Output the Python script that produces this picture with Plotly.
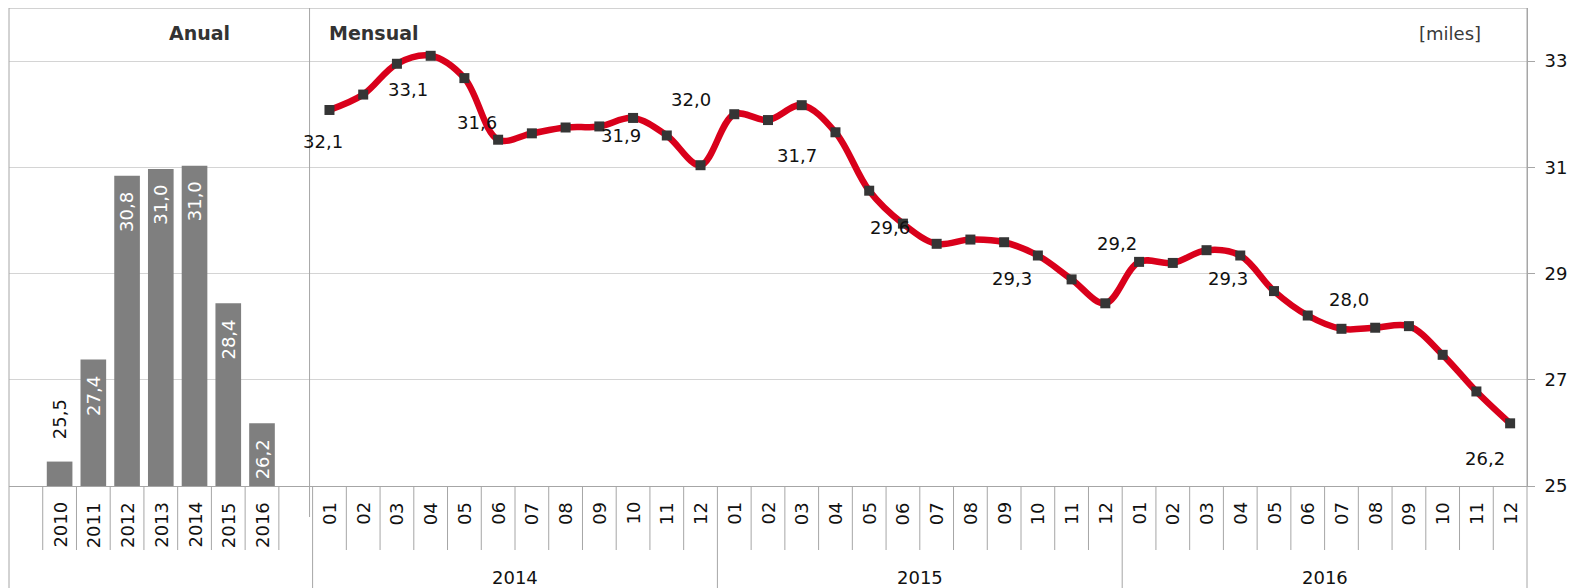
import plotly.graph_objects as go

# ---------------- data ----------------
years = ["2010", "2011", "2012", "2013", "2014", "2015", "2016"]
annual = [25.46, 27.38, 30.84, 30.97, 31.03, 28.44, 26.18]

month_groups = ["2014", "2015", "2016"]
months = ["01", "02", "03", "04", "05", "06", "07", "08", "09", "10", "11", "12"]
monthly_2014 = [32.08, 32.37, 32.95, 33.10, 32.68, 31.52, 31.64, 31.75, 31.77, 31.93, 31.60, 31.04]
monthly_2015 = [32.00, 31.89, 32.17, 31.66, 30.56, 29.94, 29.56, 29.64, 29.59, 29.34, 28.89, 28.44]
monthly_2016 = [29.22, 29.20, 29.44, 29.34, 28.67, 28.21, 27.96, 27.98, 28.01, 27.47, 26.78, 26.18]

# labelled months: (year, month) -> label offset (dx, dy) in pixels
labelled = {
    ("2014", "01"): (-6, -32), ("2014", "04"): (-23, -34), ("2014", "07"): (-55, 11),
    ("2014", "10"): (-12, -18), ("2015", "01"): (-43, 15), ("2015", "04"): (-38, -23),
    ("2015", "07"): (-47, 16), ("2015", "10"): (-26, -23), ("2016", "01"): (-22, 18),
    ("2016", "04"): (-12, -23), ("2016", "07"): (8, 29), ("2016", "12"): (-25, -35),
}

FONT = "DejaVu Sans"
BAR_COLOR = "#7F7F7F"
LINE_RED = "#D9001B"
MARKER = "#353535"
FRAME = "#A6A6A6"
GRID = "#D4D4D4"

# the page body adds an 8px margin, so the figure is 8px smaller than the window
W, H = 1576, 580
ML, MR, MT, MB = 1, 57, 0, 102
PLOT_BOTTOM_PAGE = 8 + H - MB     # 486
PLOT_H = H - MT - MB              # 478


def py(pix):
    """page pixel row -> paper y"""
    return (PLOT_BOTTOM_PAGE - pix) / PLOT_H


def fmt(v):
    return f"{v:.1f}".replace(".", ",")


# category positions: 0 blank, 1..7 years, 8 blank, 9..44 months
bar_x = [1 + i for i in range(len(years))]
monthly = monthly_2014 + monthly_2015 + monthly_2016
month_keys = [(g, m) for g in month_groups for m in months]
line_x = [9 + i for i in range(len(monthly))]

fig = go.Figure()
fig.add_trace(go.Bar(x=bar_x, y=[v - 25 for v in annual], base=25, width=0.76,
                     marker=dict(color=BAR_COLOR, line=dict(width=0)),
                     hoverinfo="skip", showlegend=False))
fig.add_trace(go.Scatter(x=line_x, y=monthly, mode="lines+markers",
                         line=dict(color=LINE_RED, width=6.5, shape="spline", smoothing=1.0),
                         marker=dict(symbol="square", size=10, color=MARKER),
                         showlegend=False, cliponaxis=False))

ann = []
# bar labels
for x, v in zip(bar_x, annual):
    if v - 25 < 1.0:
        ann.append(dict(x=x, y=v, xref="x", yref="y", text=fmt(v), showarrow=False,
                        textangle=-90, yanchor="bottom", yshift=20,
                        font=dict(family=FONT, size=18, color="#111111")))
    else:
        ann.append(dict(x=x, y=v, xref="x", yref="y", text=fmt(v), showarrow=False,
                        textangle=-90, yanchor="top", yshift=-14,
                        font=dict(family=FONT, size=18, color="white")))
# line labels
for x, v, key in zip(line_x, monthly, month_keys):
    if key in labelled:
        dx, dy = labelled[key]
        ann.append(dict(x=x, y=v, xref="x", yref="y", text=fmt(v), showarrow=False,
                        xshift=dx, yshift=dy,
                        font=dict(family=FONT, size=18, color="#111111")))
# category labels
for x, t in zip(bar_x, years):
    ann.append(dict(x=x, y=py(500), xref="x", yref="paper", text=t, showarrow=False,
                    textangle=-90, yanchor="top",
                    font=dict(family=FONT, size=18, color="#111111")))
for x, (g, m) in zip(line_x, month_keys):
    ann.append(dict(x=x, y=py(500), xref="x", yref="paper", text=m, showarrow=False,
                    textangle=-90, yanchor="top",
                    font=dict(family=FONT, size=18, color="#111111")))
for gi, g in enumerate(month_groups):
    ann.append(dict(x=9 + 12 * gi + 5.5, y=py(577), xref="x", yref="paper", text=g,
                    showarrow=False, yanchor="middle",
                    font=dict(family=FONT, size=18, color="#111111")))
# panel titles
ann.append(dict(x=5.16, y=py(33), xref="x", yref="paper", text="<b>Anual</b>", showarrow=False,
                xanchor="center", yanchor="middle", font=dict(family=FONT, size=19, color="#333333")))
ann.append(dict(x=8.92, y=py(33), xref="x", yref="paper", text="<b>Mensual</b>", showarrow=False,
                xanchor="left", yanchor="middle", font=dict(family=FONT, size=19, color="#333333")))
ann.append(dict(x=43.2, y=py(34), xref="x", yref="paper", text="[miles]", showarrow=False,
                xanchor="right", yanchor="middle", font=dict(family=FONT, size=18, color="#3A3A3A")))

shapes = []
line_style = dict(color=FRAME, width=1)
bottom = py(588)
# frame
shapes.append(dict(type="line", xref="paper", yref="paper", x0=0, x1=1, y0=1, y1=1, line=line_style))
shapes.append(dict(type="line", xref="paper", yref="paper", x0=0, x1=0, y0=1, y1=bottom, line=line_style))
shapes.append(dict(type="line", xref="paper", yref="paper", x0=1, x1=1, y0=1, y1=bottom, line=line_style))
# panel separator
shapes.append(dict(type="line", xref="x", yref="paper", x0=8.41, x1=8.41, y0=1, y1=py(517), line=line_style))
# year boxes (annual)
for b in range(len(years) + 1):
    xb = 0.5 + b
    shapes.append(dict(type="line", xref="x", yref="paper", x0=xb, x1=xb, y0=0, y1=py(550), line=line_style))
# month boxes
for k in range(len(monthly) + 1):
    xb = 8.5 + k
    if k % 12 == 0:
        if k < len(monthly):
            shapes.append(dict(type="line", xref="x", yref="paper", x0=xb, x1=xb, y0=0, y1=bottom, line=line_style))
    else:
        shapes.append(dict(type="line", xref="x", yref="paper", x0=xb, x1=xb, y0=0, y1=py(550), line=line_style))

fig.update_layout(
    width=W, height=H,
    margin=dict(l=ML, r=MR, t=MT, b=MB, pad=0),
    paper_bgcolor="white", plot_bgcolor="white",
    annotations=ann, shapes=shapes,
    font=dict(family=FONT, size=18, color="#111111"),
    xaxis=dict(range=[-0.5, 44.5], showticklabels=False, showgrid=False, zeroline=False,
               showline=True, linecolor=FRAME, linewidth=1, ticks=""),
    yaxis=dict(range=[25, 34], side="right", tickvals=[25, 27, 29, 31, 33],
               ticktext=["25", "27", "29", "31", "33"], showgrid=True, gridcolor=GRID,
               gridwidth=1, zeroline=False, showline=True, linecolor=FRAME, linewidth=1,
               ticks="outside", ticklen=7, tickcolor=FRAME, ticklabelstandoff=6,
               tickfont=dict(family=FONT, size=18, color="#111111")),
    bargap=0.24,
)

fig.write_html("out.html")
